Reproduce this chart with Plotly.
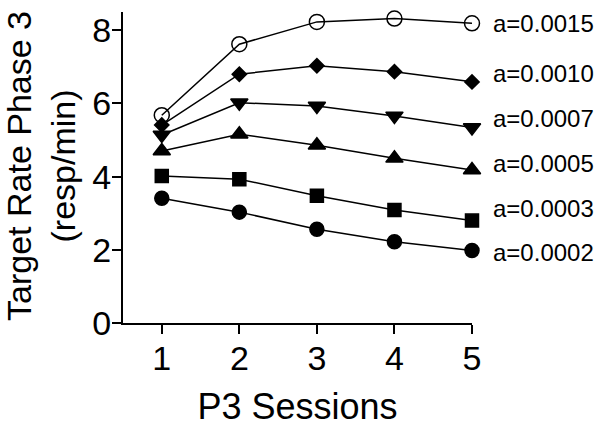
import plotly.graph_objects as go

sessions = [1, 2, 3, 4, 5]
labels = ["a=0.0015", "a=0.0010", "a=0.0007", "a=0.0005", "a=0.0003", "a=0.0002"]
a0015 = [5.68, 7.62, 8.23, 8.32, 8.19]
a0010 = [5.41, 6.80, 7.03, 6.87, 6.59]
a0007 = [5.14, 6.02, 5.93, 5.66, 5.34]
a0005 = [4.70, 5.16, 4.86, 4.50, 4.18]
a0003 = [4.02, 3.93, 3.48, 3.09, 2.80]
a0002 = [3.41, 3.03, 2.56, 2.22, 1.98]
label_y = [8.18, 6.82, 5.60, 4.37, 3.14, 1.94]

series = [a0015, a0010, a0007, a0005, a0003, a0002]
symbols = ["circle-open", "diamond", "triangle-down", "triangle-up", "square", "circle"]
sizes = [15, 11, 15, 15, 13, 14]

FONT = "Arial, Liberation Sans, sans-serif"
fig = go.Figure()
for vals, sym, sz, lab in zip(series, symbols, sizes, labels):
    fig.add_trace(go.Scatter(
        x=sessions, y=vals, mode="lines+markers", name=lab,
        line=dict(color="black", width=1.5),
        marker=dict(symbol=sym, size=sz, color="black",
                    line=dict(color="black", width=1.5)),
        cliponaxis=False, showlegend=False,
    ))

for lab, ly in zip(labels, label_y):
    fig.add_annotation(x=sessions[-1], y=ly, xref="x", yref="y", text=lab,
                       showarrow=False, xanchor="left", yanchor="middle",
                       xshift=19, font=dict(family=FONT, size=24, color="black"))

# y-axis title as a rotated annotation for precise placement
fig.add_annotation(x=0, y=0.505, xref="paper", yref="paper",
                   text="Target Rate Phase 3<br>(resp/min)", textangle=-90,
                   showarrow=False, xanchor="center", yanchor="middle", xshift=-82,
                   font=dict(family=FONT, size=34, color="black"))

fig.update_layout(
    width=604, height=428,
    margin=dict(l=123, r=132, t=12, b=105, autoexpand=False),
    plot_bgcolor="white", paper_bgcolor="white",
    font=dict(family=FONT, color="black"),
    xaxis=dict(range=[0.5, 5], tickvals=sessions, showgrid=False, zeroline=False,
               showline=True, linecolor="black", linewidth=2, automargin=False,
               ticks="outside", ticklen=9, tickwidth=2, tickcolor="black",
               tickfont=dict(size=34), ticklabelstandoff=-5,
               title=dict(text="P3 Sessions", font=dict(size=36), standoff=18)),
    yaxis=dict(range=[0, 8.5], tickvals=[0, 2, 4, 6, 8], showgrid=False, zeroline=False,
               showline=True, linecolor="black", linewidth=2, automargin=False,
               ticks="outside", ticklen=9, tickwidth=2, tickcolor="black",
               tickfont=dict(size=34), ticklabelstandoff=-6),
)

fig.write_html("out.html", config={"displayModeBar": False},
               post_script="document.body.style.margin='0';document.body.style.overflow='hidden';")
